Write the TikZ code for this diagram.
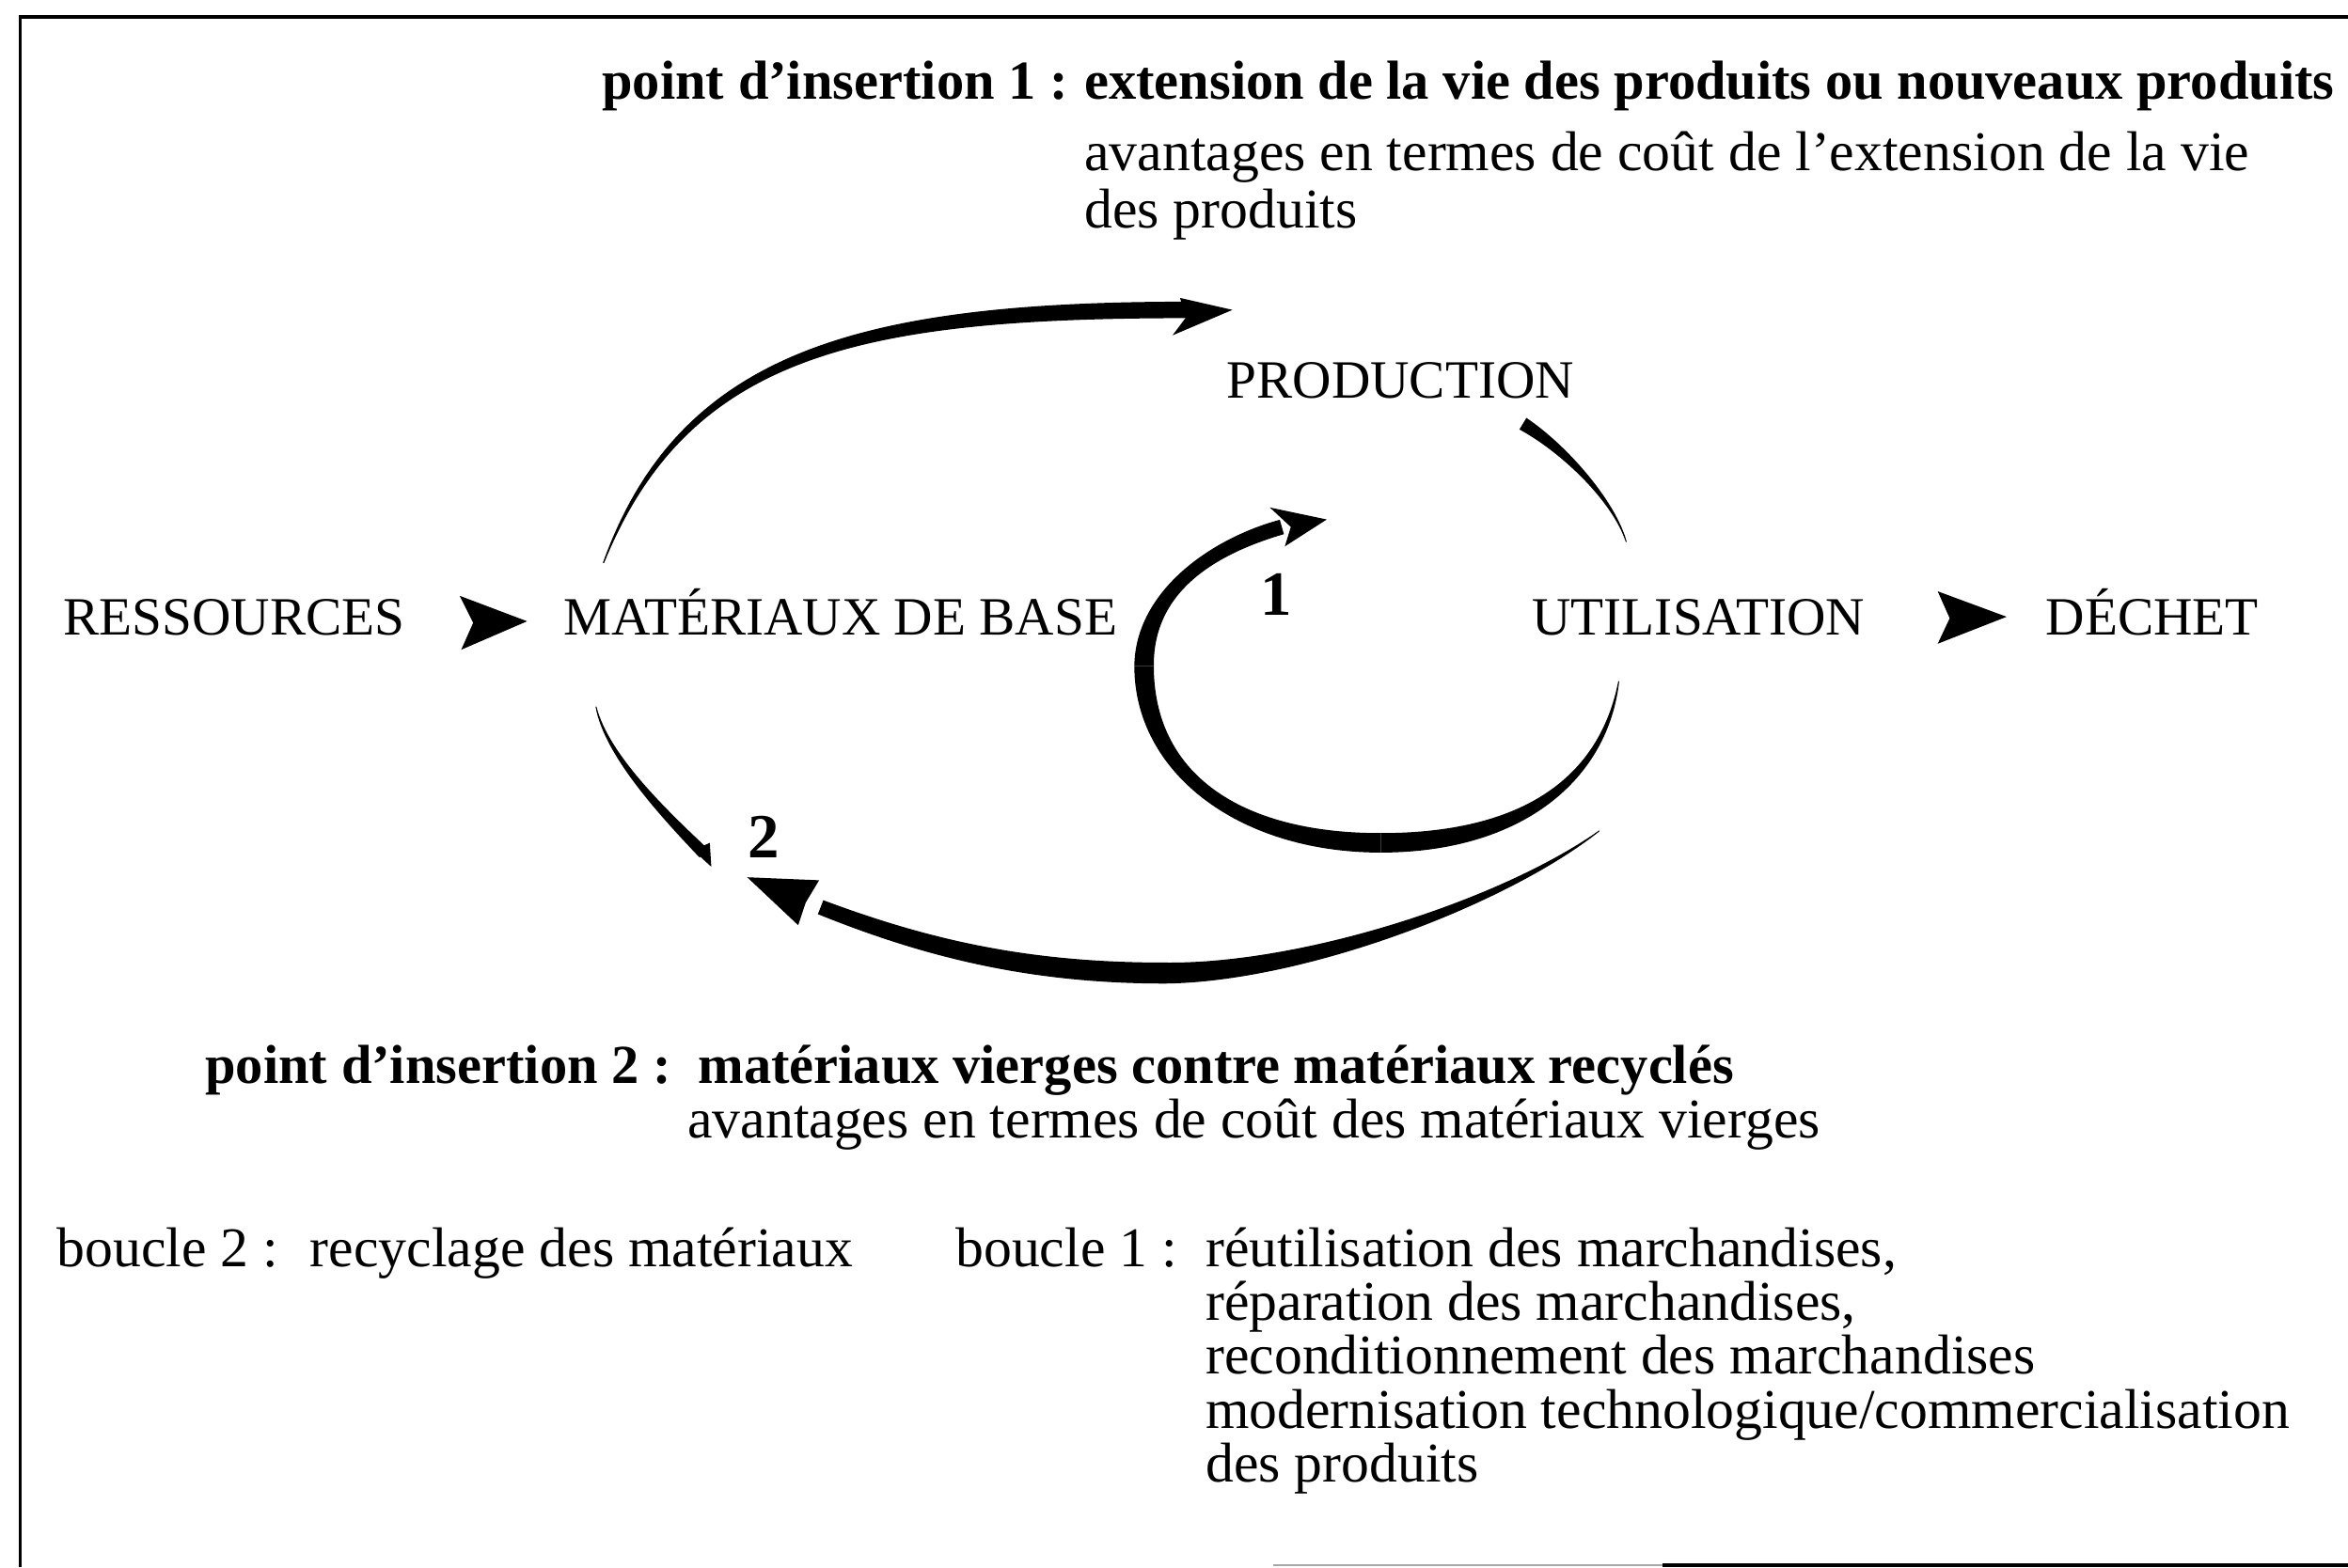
\documentclass[tikz,border=0pt]{standalone}
\usepackage{fontspec}
\setmainfont{Liberation Serif}
\usetikzlibrary{calc}
\newcommand\taper[8]{%
 \coordinate (tA) at (#1); \coordinate (tB) at (#2); \coordinate (tC) at (#3); \coordinate (tD) at (#4);
 \coordinate (oA) at ($(tA)!#5pt!90:(tB)$);
 \coordinate (iA) at ($(tA)!#5pt!-90:(tB)$);
 \coordinate (u1) at ($(tA)!#6pt!90:(tB)$);
 \coordinate (oB) at ($(tB)+(u1)-(tA)$);
 \coordinate (u1i) at ($(tA)!#6pt!-90:(tB)$);
 \coordinate (iB) at ($(tB)+(u1i)-(tA)$);
 \coordinate (u2) at ($(tD)!#7pt!-90:(tC)$);
 \coordinate (oC) at ($(tC)+(u2)-(tD)$);
 \coordinate (u2i) at ($(tD)!#7pt!90:(tC)$);
 \coordinate (iC) at ($(tC)+(u2i)-(tD)$);
 \coordinate (oD) at ($(tD)!#8pt!-90:(tC)$);
 \coordinate (iD) at ($(tD)!#8pt!90:(tC)$);
 \fill (oA) .. controls (oB) and (oC) .. (oD) -- (iD) .. controls (iC) and (iB) .. (iA) -- cycle;
}
\begin{document}
\begin{tikzpicture}[x=1pt,y=-1pt,
  txt/.style={anchor=base west,inner sep=0pt,font=\fontsize{37.5}{40}\selectfont},
  ctxt/.style={anchor=base west,inner sep=0pt,font=\fontsize{36}{40}\selectfont},
  btxt/.style={anchor=base west,inner sep=0pt,font=\fontsize{36.7}{40}\selectfont\bfseries},
  num/.style={anchor=base,inner sep=0pt,font=\fontsize{42}{46}\selectfont\bfseries},
  frame/.style={line width=2.5pt}]
\useasboundingbox (0,0) rectangle (1568,1047);
% frame
\draw[frame] (13.5,1047) -- (13.5,11) -- (1568,11);
\draw[line width=1pt,black!35] (850,1045.5) -- (1110,1045.5);
\draw[line width=2pt] (1110,1045.5) -- (1568,1045.5);
% top texts
\node[btxt] (pi1) at (402,66) {point d'insertion 1 :};
\node[btxt] (pi1a) at (724,66) {extension de la vie des produits ou nouveaux produits};
\node[txt] (pi1b) at (724,114) {avantages en termes de coût de l'extension de la vie};
\node[txt] (pi1c) at (724,152) {des produits};
% main row
\node[ctxt] (prod) at (819,266) {PRODUCTION};
\node[ctxt] (res) at (42,424) {RESSOURCES};
\node[ctxt] (mat) at (376,424) {MATÉRIAUX DE BASE};
\node[ctxt] (uti) at (1023,424) {UTILISATION};
\node[ctxt] (dec) at (1366,424) {DÉCHET};
\node[num] (n1) at (852,411) {1};
\node[num] (n2) at (510,573) {2};
% stealth arrowheads
\fill (307,398) -- (352,415) -- (308,434) -- (316,416) -- cycle;
\fill (1294,395) -- (1340,412) -- (1294,430) -- (1302,413) -- cycle;
% top arc: MATERIAUX -> PRODUCTION
\taper{403,376}{457,235}{575,207}{795,207}{0.4}{3.5}{5.5}{5.5}
\fill (788,199) -- (823,207) -- (783,224) -- (792,212) -- cycle;
% PRODUCTION -> UTILISATION
\taper{1017,283}{1045,300}{1078,335}{1086,362}{4.5}{3}{1}{0.3}
% loop 1
\taper{1081,455}{1071,520}{1017,563}{922,563}{0.3}{3}{6.5}{6.5}
\taper{922,563}{827,563}{764,516}{764,445}{6.5}{6.5}{6.5}{6.5}
\taper{764,445}{764,395}{810,365}{856,352}{6.5}{6}{5.5}{5}
\fill (848,339) -- (886,347) -- (858,365) -- (862,352) -- cycle;
% bottom arc: UTILISATION -> 2
\taper{1068,555}{1004,603}{870,650}{778,650}{0.3}{2.5}{6}{7}
\taper{778,650}{688,650}{620,634}{548,606}{7}{7}{6}{5}
\fill (547,588) -- (499,586) -- (533,618) -- (538,603) -- cycle;
% MATERIAUX -> 2
\taper{398,472}{405,505}{445,545}{470,570}{0.3}{1.5}{3}{4}
\fill (463,568) -- (475,579) -- (474,563) -- cycle;
% bottom texts
\node[btxt] (pi2) at (137,724) {point d'insertion 2 :};
\node[btxt] (pi2a) at (466,724) {matériaux vierges contre matériaux recyclés};
\node[txt] (pi2b) at (459,760) {avantages en termes de coût des matériaux vierges};
\node[txt] (b2) at (38,846) {boucle 2 :};
\node[txt] (b2a) at (207,846) {recyclage des matériaux};
\node[txt] (b1) at (638,846) {boucle 1 :};
\node[txt] (b1a) at (805,846) {réutilisation des marchandises,};
\node[txt] (b1b) at (805,882) {réparation des marchandises,};
\node[txt] (b1c) at (805,918) {reconditionnement des marchandises};
\node[txt] (b1d) at (805,954) {modernisation technologique/commercialisation};
\node[txt] (b1e) at (805,990) {des produits};
\end{tikzpicture}
\end{document}
